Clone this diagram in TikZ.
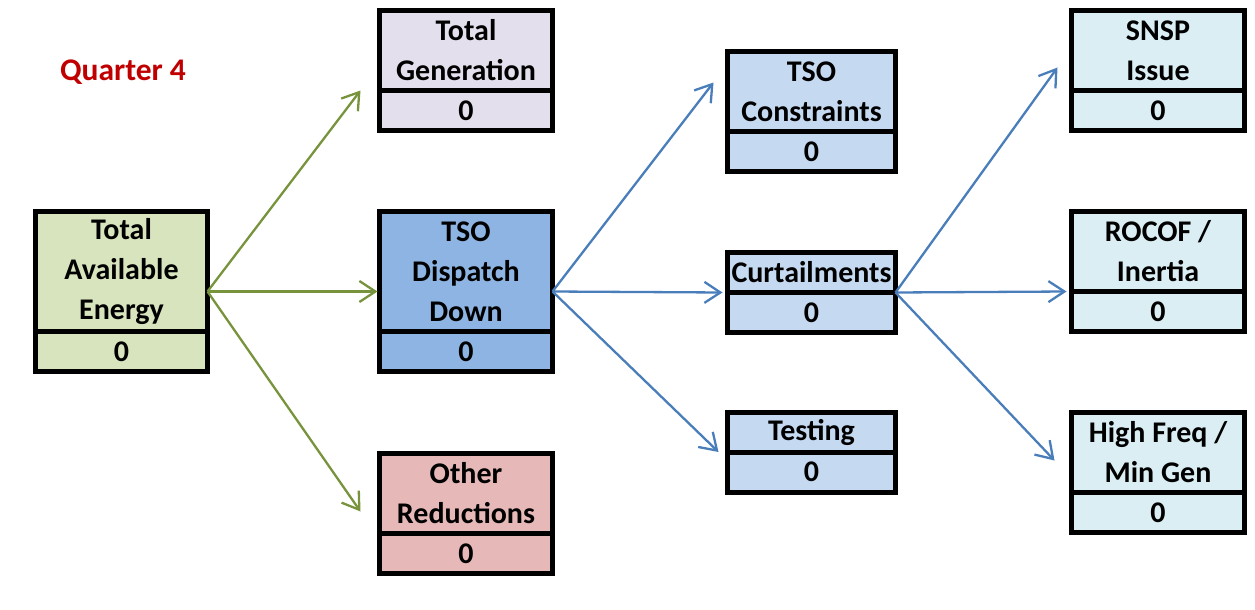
\documentclass[tikz,border=0pt]{standalone}
\usepackage{fontspec}
\setmainfont{Carlito}
\usepackage{tikz}
\usetikzlibrary{arrows.meta,positioning}
\definecolor{availfill}{HTML}{D7E4BD}
\definecolor{genfill}{HTML}{E4DFEC}
\definecolor{tsofill}{HTML}{8DB4E2}
\definecolor{otherfill}{HTML}{E6B9B8}
\definecolor{downfill}{HTML}{C5D9F1}
\definecolor{curtfill}{HTML}{DAEEF3}
\definecolor{greenline}{HTML}{77933C}
\definecolor{blueline}{HTML}{4A7EBB}
\definecolor{quarterred}{HTML}{C00000}

\begin{document}
\begin{tikzpicture}[x=1pt,y=-1pt]
\tikzset{boxhead/.style = {shape=rectangle,draw,line width=5pt,outer sep=0pt,inner sep=1pt,align=center,font=\fontsize{30}{40}\selectfont\bfseries}}
\tikzset{boxval/.style = {boxhead,minimum height=40pt}}
\tikzset{greenedge/.style = {draw=greenline,line width=2.3pt,-{Straight Barb[length=16pt,width=21pt]}}}
\tikzset{blueedge/.style = {draw=blueline,line width=2.3pt,-{Straight Barb[length=16pt,width=21pt]}}}
\useasboundingbox (0,0) rectangle (1255,610);

\node[text=quarterred,font=\fontsize{31.5}{40}\selectfont\bfseries] (quarter) at (123,72) {Quarter 4};

\node[boxhead,fill=availfill,minimum width=172pt,minimum height=120pt] (avail) at (121.5,271.5) {Total\\Available\\Energy};
\node[boxval,fill=availfill,minimum width=172pt,below=0pt of avail] (availval) {0};

\node[boxhead,fill=genfill,minimum width=173pt,minimum height=80pt] (gen) at (466,50.5) {Total\\Generation};
\node[boxval,fill=genfill,minimum width=173pt,below=0pt of gen] (genval) {0};
\node[boxhead,fill=tsofill,minimum width=173pt,minimum height=120pt] (tso) at (466,271.5) {TSO\\Dispatch\\Down};
\node[boxval,fill=tsofill,minimum width=173pt,below=0pt of tso] (tsoval) {0};
\node[boxhead,fill=otherfill,minimum width=173pt,minimum height=80pt] (other) at (466,493.5) {Other\\Reductions};
\node[boxval,fill=otherfill,minimum width=173pt,below=0pt of other] (otherval) {0};

\node[boxhead,fill=downfill,minimum width=168pt,minimum height=80pt] (constr) at (811.5,91.5) {TSO\\Constraints};
\node[boxval,fill=downfill,minimum width=168pt,below=0pt of constr] (constrval) {0};
\node[boxhead,fill=downfill,minimum width=168pt,minimum height=40pt] (curt) at (811.5,272.5) {Curtailments};
\node[boxval,fill=downfill,minimum width=168pt,below=0pt of curt] (curtval) {0};
\node[boxhead,fill=downfill,minimum width=168pt,minimum height=40pt] (test) at (811.5,432) {Testing};
\node[boxval,fill=downfill,minimum width=168pt,below=0pt of test] (testval) {0};

\node[boxhead,fill=curtfill,minimum width=173pt,minimum height=80pt] (snsp) at (1158,50.5) {SNSP\\Issue};
\node[boxval,fill=curtfill,minimum width=173pt,below=0pt of snsp] (snspval) {0};
\node[boxhead,fill=curtfill,minimum width=173pt,minimum height=80pt] (rocof) at (1158,251.5) {ROCOF /\\Inertia};
\node[boxval,fill=curtfill,minimum width=173pt,below=0pt of rocof] (rocofval) {0};
\node[boxhead,fill=curtfill,minimum width=173pt,minimum height=80pt] (highf) at (1158,452.5) {High Freq /\\Min Gen};
\node[boxval,fill=curtfill,minimum width=173pt,below=0pt of highf] (highfval) {0};

\draw[greenedge] ([yshift=-20pt]avail.east) -- ([xshift=-19pt]gen.south west);
\draw[greenedge] ([yshift=-20pt]avail.east) -- ([xshift=-2pt,yshift=-20pt]tso.west);
\draw[greenedge] ([yshift=-20pt]avail.east) -- ([xshift=-19pt,yshift=-18pt]other.west);

\draw[blueedge] ([yshift=-20pt]tso.east) -- ([xshift=-14pt,yshift=9pt]constr.west);
\draw[blueedge] ([yshift=-20pt]tso.east) -- ([xshift=-5pt]curt.south west);
\draw[blueedge] ([yshift=-20pt]tso.east) -- ([xshift=-9pt]test.south west);

\draw[blueedge] (curt.south east) -- ([xshift=-14pt,yshift=-17pt]snsp.west);
\draw[blueedge] (curt.south east) -- ([xshift=-5pt]rocof.south west);
\draw[blueedge] (curt.south east) -- ([xshift=-17pt,yshift=-8pt]highf.west);
\end{tikzpicture}
\end{document}
